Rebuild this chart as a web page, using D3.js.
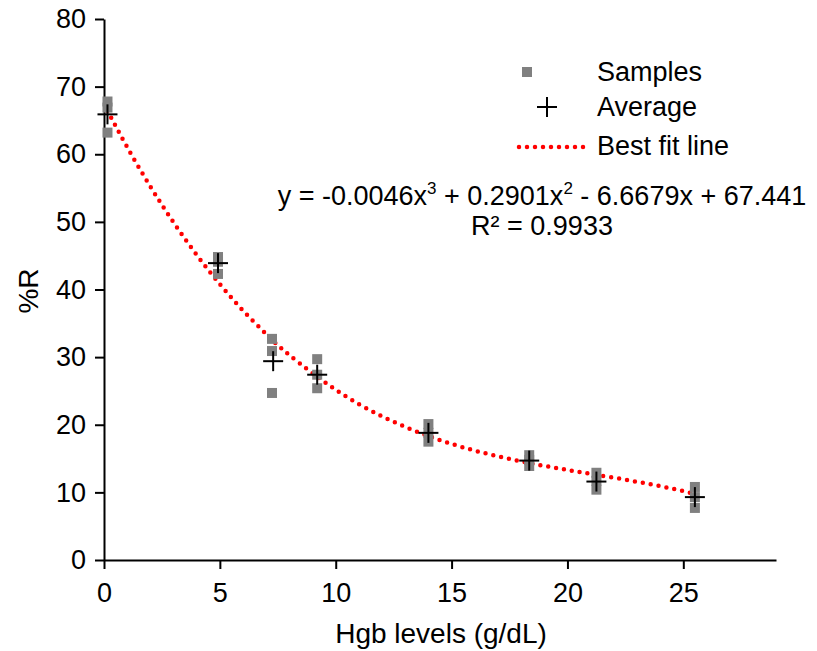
<!DOCTYPE html>
<html><head><meta charset="utf-8">
<script src="https://cdn.jsdelivr.net/npm/d3@7"></script>
<style>
html,body{margin:0;padding:0;background:#fff;}
text{font-family:"Liberation Sans",Arial,sans-serif;fill:#000;}
</style></head>
<body><svg id="chart" width="817" height="651"></svg>
<script>
// ---- data ----
const sampleX = [0.15,0.15,0.15, 4.92,4.92,4.92, 7.25,7.25,7.25, 9.2,9.2,9.2, 14.0,14.0,14.0, 18.35,18.35,18.35, 21.25,21.25,21.25, 25.5,25.5,25.5];
const sampleY = [67.8,66.9,63.2, 44.8,44.1,42.3, 32.7,30.9,24.7, 29.7,27.4,25.4, 20.1,18.8,17.5, 15.5,14.8,13.9, 12.9,11.7,10.4, 10.8,9.3,7.7];
const avgX = [0.15, 4.92, 7.3, 9.2, 14.0, 18.35, 21.25, 25.5];
const avgY = [65.9, 43.9, 29.4, 27.4, 18.8, 14.7, 11.6, 9.3];
const fitX = [0.15, 1, 2, 3, 4, 5, 6, 7, 8, 10, 12, 14, 16, 18, 20, 22, 24, 25.5];
const fitY = [66.45, 61.06, 55.23, 49.92, 45.12, 40.78, 36.88, 33.40, 30.31, 25.17, 21.25, 18.33, 16.18, 14.58, 13.32, 12.17, 10.92, 9.78];
const xTicks = [0, 5, 10, 15, 20, 25];
const yTicks = [0, 10, 20, 30, 40, 50, 60, 70, 80];
const legendLabels = ["Samples", "Average", "Best fit line"];
const eqParts = ["y = -0.0046x", "3", " + 0.2901x", "2", " - 6.6679x + 67.441"];
const r2Label = "R² = 0.9933";
const xTitle = "Hgb levels (g/dL)";
const yTitle = "%R";

const svg = d3.select("#chart");
const x = d3.scaleLinear().domain([0, 29]).range([104, 776]);
const y = d3.scaleLinear().domain([0, 80]).range([560, 19]);

// axes
const gx = svg.append("g").attr("transform", "translate(0,560)")
  .call(d3.axisBottom(x).tickValues(xTicks).tickSize(9).tickPadding(9).tickSizeOuter(0));
const gy = svg.append("g").attr("transform", "translate(104,0)")
  .call(d3.axisLeft(y).tickValues(yTicks).tickSize(9).tickPadding(9).tickSizeOuter(0));
[gx, gy].forEach(g => {
  g.select(".domain").attr("stroke", "#000").attr("stroke-width", 2);
  g.selectAll(".tick line").attr("stroke", "#000").attr("stroke-width", 2);
  g.selectAll(".tick text").attr("font-size", 27).attr("font-family", "Liberation Sans, Arial, sans-serif").attr("fill", "#000");
});
gx.selectAll(".tick text").attr("dy", "0.9em");

// axis titles
svg.append("text").attr("x", 441).attr("y", 643).attr("text-anchor", "middle")
  .attr("font-size", 28).text(xTitle);
svg.append("text").attr("transform", "translate(38,291) rotate(-90)").attr("text-anchor", "middle")
  .attr("font-size", 28).text(yTitle);

// best fit line
const line = d3.line().x(d => x(d[0])).y(d => y(d[1])).curve(d3.curveNatural);
svg.append("path").datum(fitX.map((v, i) => [v, fitY[i]]))
  .attr("d", line).attr("fill", "none").attr("stroke", "#ff0000")
  .attr("stroke-width", 4.5).attr("stroke-linecap", "round").attr("stroke-dasharray", "0 8");

// samples
const sq = 10;
svg.append("g").selectAll("rect").data(sampleX.map((v, i) => [v, sampleY[i]])).join("rect")
  .attr("x", d => x(d[0]) - sq / 2).attr("y", d => y(d[1]) - sq / 2)
  .attr("width", sq).attr("height", sq).attr("fill", "#808080");

// averages (plus marks)
const arm = 10;
const ag = svg.append("g").attr("stroke", "#000").attr("stroke-width", 2);
avgX.forEach((v, i) => {
  const cx = x(v), cy = y(avgY[i]);
  ag.append("line").attr("x1", cx - arm).attr("x2", cx + arm).attr("y1", cy).attr("y2", cy);
  ag.append("line").attr("x1", cx).attr("x2", cx).attr("y1", cy - arm).attr("y2", cy + arm);
});

// legend
const lg = svg.append("g");
lg.append("rect").attr("x", 522).attr("y", 67).attr("width", 10).attr("height", 10).attr("fill", "#808080");
lg.append("line").attr("x1", 537).attr("x2", 557).attr("y1", 107).attr("y2", 107).attr("stroke", "#000").attr("stroke-width", 2);
lg.append("line").attr("x1", 547).attr("x2", 547).attr("y1", 97).attr("y2", 117).attr("stroke", "#000").attr("stroke-width", 2);
lg.append("line").attr("x1", 519).attr("x2", 590).attr("y1", 147).attr("y2", 147)
  .attr("stroke", "#ff0000").attr("stroke-width", 4.5).attr("stroke-linecap", "round").attr("stroke-dasharray", "0 8");
const ly = [81, 116, 155];
legendLabels.forEach((t, i) => {
  lg.append("text").attr("x", 597).attr("y", ly[i]).attr("font-size", 27).text(t);
});

// equation
const eq = svg.append("text").attr("x", 542).attr("y", 205).attr("text-anchor", "middle").attr("font-size", 27);
eqParts.forEach((p, i) => {
  const t = eq.append("tspan").text(p);
  if (i === 1 || i === 3) t.attr("font-size", 17).attr("dy", -11);
  if (i === 2 || i === 4) t.attr("dy", 11);
});
svg.append("text").attr("x", 542).attr("y", 235).attr("text-anchor", "middle").attr("font-size", 27).text(r2Label);
</script></body></html>
